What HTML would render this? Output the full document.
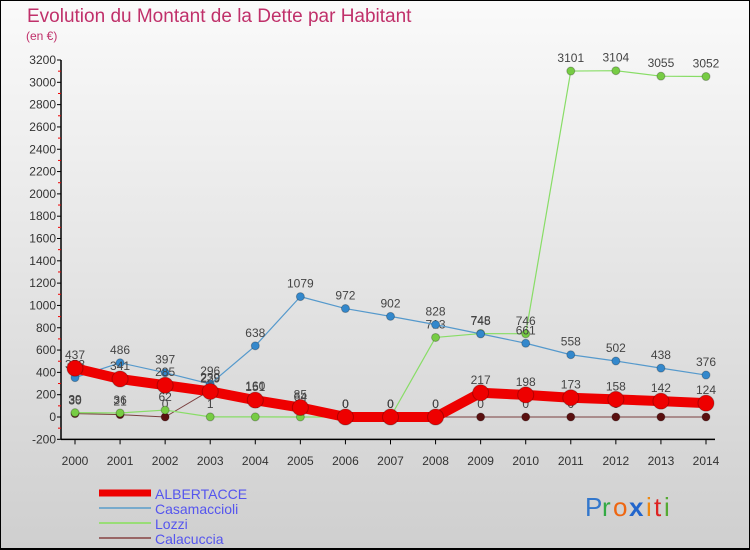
<!DOCTYPE html>
<html><head><meta charset="utf-8"><style>
body{margin:0}
#c{width:750px;height:550px;position:relative;overflow:hidden;box-sizing:border-box;border:1px solid #000;border-bottom:2px solid #000;background:linear-gradient(#fafafa,#cfcfcf);font-family:"Liberation Sans",sans-serif}
</style></head><body>
<div id="c">
<svg id="s" width="750" height="550" style="position:absolute;left:-1px;top:-1px">
<text x="27" y="22" font-size="19" fill="#c0306a">Evolution du Montant de la Dette par Habitant</text>
<text x="26" y="40" font-size="12" fill="#c0306a">(en €)</text>
</svg>
</div>
<script>
const years=[2000,2001,2002,2003,2004,2005,2006,2007,2008,2009,2010,2011,2012,2013,2014];
const albertacce=[437,341,285,229,151,85,0,0,0,217,198,173,158,142,124];
const casamaccioli=[353,486,397,296,638,1079,972,902,828,745,661,558,502,438,376];
const lozzi=[39,36,62,1,1,0,0,0,713,748,746,3101,3104,3055,3052];
const calacuccia=[30,21,0,239,160,64,0,0,0,0,0,0,0,0,0];
const yTicks=[-200,0,200,400,600,800,1000,1200,1400,1600,1800,2000,2200,2400,2600,2800,3000,3200];
const seriesNames=["ALBERTACCE","Casamaccioli","Lozzi","Calacuccia"];
const NS="http://www.w3.org/2000/svg",s=document.getElementById('s');
const X=i=>75+i*(706-75)/(years.length-1);
const Y=v=>417-v*(357/3200);
function el(t,a,txt){const e=document.createElementNS(NS,t);for(const k in a)e.setAttribute(k,a[k]);if(txt!==undefined)e.textContent=txt;s.appendChild(e);return e;}
let e;
e=el('line',{x1:61,y1:Y(3200),x2:61,y2:Y(-200),stroke:'#000','stroke-width':1.5});


e=el('line',{x1:61,y1:Y(-200),x2:715,y2:Y(-200),stroke:'#000','stroke-width':1.5});


yTicks.forEach(v=>{
 el('line',{x1:57,x2:61,y1:Y(v),y2:Y(v),stroke:'#000'});
 if(v<3200) el('line',{x1:58,x2:61,y1:Y(v+100),y2:Y(v+100),stroke:'#e00'});
 e=el('text',{x:56,y:Y(v)+4,'font-size':12,fill:'#333','text-anchor':'end'},v);
 
 
});
years.forEach((y,i)=>{
 el('line',{x1:X(i),x2:X(i),y1:Y(-200),y2:Y(-200)+5,stroke:'#000'});
 e=el('text',{x:X(i),y:465,'font-size':12,fill:'#333','text-anchor':'middle'},y);
 
 
});
const defs=[
 {d:calacuccia,c:'#7a4040',w:1,r:4,f:'#5a1010',n:'calacuccia'},
 {d:lozzi,c:'#88dd66',w:1.2,r:4,f:'#77cc44',n:'lozzi'},
 {d:casamaccioli,c:'#5599cc',w:1.2,r:4,f:'#3388cc',n:'casamaccioli'},
 {d:albertacce,c:'#ee0000',w:10,r:8,f:'#ee0000',n:'albertacce'}];
defs.forEach(sr=>{
 e=el('polyline',{points:sr.d.map((v,i)=>X(i)+','+Y(v)).join(' '),fill:'none',stroke:sr.c,'stroke-width':sr.w,'stroke-linejoin':'round'});
 
 
 sr.d.forEach((v,i)=>{
  e=el('circle',{cx:X(i),cy:Y(v),r:sr.r,fill:sr.f,stroke:'rgba(0,0,0,0.25)'});
  
  
  e=el('text',{x:X(i),y:Y(v)-9,'font-size':12,fill:'#444','text-anchor':'middle'},v);
  
  
 });
});
const lc=['#ee0000','#77aacc','#99dd77','#996666'],lw=[7,2,2,2];
seriesNames.forEach((n,i)=>{
 const y=493+i*15;
 el('line',{x1:99,x2:151,y1:y,y2:y,stroke:lc[i],'stroke-width':lw[i]});
 e=el('text',{x:155,y:y+6,'font-size':14,fill:'#5555ee'},n);
 
 
});
const logo=[['P','#3377cc',17],['r','#33aa44',11],['o','#ee6611',16],['x','#2266cc',17],['i','#ee8811',8],['t','#dd2222',10],['i','#55aa33',8]];
let lx=585;
logo.forEach(([ch,col,w])=>{e=el('text',{x:lx,y:516,'font-size':26,fill:col,'font-weight':ch==='x'?'bold':'normal'},ch);
 
 
 lx+=w;});
</script>
</body></html>
